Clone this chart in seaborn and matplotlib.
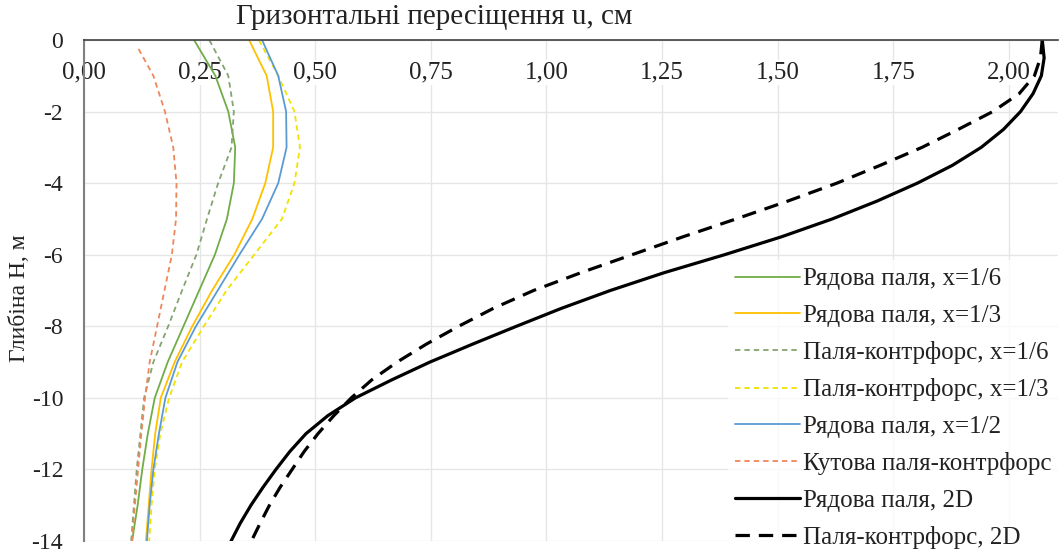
import numpy as np
import pandas as pd
import matplotlib
matplotlib.use("Agg")
import matplotlib.pyplot as plt
import seaborn as sns

# depths (m) for the coloured 3D curves
depth = [0, -1, -2, -3, -4, -5, -6, -7, -8, -9, -10, -11, -12, -13, -14]
row_16 = [0.238, 0.284, 0.312, 0.327, 0.324, 0.309, 0.283, 0.249, 0.215, 0.181, 0.153, 0.138, 0.126, 0.116, 0.104]
row_13 = [0.357, 0.395, 0.409, 0.409, 0.392, 0.364, 0.325, 0.277, 0.234, 0.196, 0.166, 0.154, 0.146, 0.140, 0.134]
buttress_16 = [0.271, 0.312, 0.324, 0.319, 0.290, 0.266, 0.243, 0.212, 0.182, 0.150, 0.130, 0.122, 0.114, 0.108, 0.102]
buttress_13 = [0.378, 0.420, 0.455, 0.467, 0.455, 0.428, 0.368, 0.308, 0.259, 0.212, 0.184, 0.165, 0.153, 0.146, 0.141]
row_12 = [0.385, 0.420, 0.437, 0.438, 0.420, 0.385, 0.336, 0.289, 0.242, 0.202, 0.176, 0.162, 0.150, 0.142, 0.136]
corner_depth = [-0.25, -1, -2, -3, -4, -5, -6, -7, -8, -9, -10, -11, -12, -13, -14]
corner = [0.118, 0.150, 0.175, 0.193, 0.200, 0.199, 0.190, 0.174, 0.158, 0.142, 0.132, 0.124, 0.117, 0.110, 0.104]

# 2D curves, every 0.5 m
depth_2d = [0, -0.5, -1, -1.5, -2, -2.5, -3, -3.5, -4, -4.5, -5, -5.5, -6, -6.5, -7,
            -7.5, -8, -8.5, -9, -9.5, -10, -10.5, -11, -11.5, -12, -12.5, -13, -13.5, -14]
row_2d = [2.072, 2.076, 2.070, 2.052, 2.025, 1.988, 1.940, 1.878, 1.802, 1.715, 1.618, 1.508, 1.385, 1.255, 1.138,
          1.032, 0.935, 0.840, 0.748, 0.665, 0.587, 0.527, 0.480, 0.445, 0.415, 0.387, 0.361, 0.338, 0.318]
buttress_2d = [2.072, 2.068, 2.055, 2.022, 1.965, 1.890, 1.812, 1.722, 1.628, 1.522, 1.410, 1.295, 1.185, 1.075, 0.972,
               0.885, 0.810, 0.740, 0.677, 0.622, 0.578, 0.540, 0.506, 0.476, 0.450, 0.424, 0.401, 0.381, 0.362]

x_ticks = [0, 0.25, 0.5, 0.75, 1.0, 1.25, 1.5, 1.75, 2.0]
x_labels = ["0,00", "0,25", "0,50", "0,75", "1,00", "1,25", "1,50", "1,75", "2,00"]
y_ticks = [0, -2, -4, -6, -8, -10, -12, -14]
y_labels = ["0", "-2", "-4", "-6", "-8", "-10", "-12", "-14"]

series = [
    ("Рядова паля, x=1/6", row_16, depth, "#70AD47", "-", 1.3),
    ("Рядова паля, x=1/3", row_13, depth, "#FFC000", "-", 1.3),
    ("Паля-контрфорс, x=1/6", buttress_16, depth, "#86A372", (0, (3, 2.2)), 1.3),
    ("Паля-контрфорс, x=1/3", buttress_13, depth, "#F2E200", (0, (3, 2.2)), 1.3),
    ("Рядова паля, x=1/2", row_12, depth, "#5B9BD5", "-", 1.3),
    ("Кутова паля-контрфорс", corner, corner_depth, "#EE8759", (0, (3, 2.2)), 1.3),
    ("Рядова паля, 2D", row_2d, depth_2d, "black", "-", 2.3),
    ("Паля-контрфорс, 2D", buttress_2d, depth_2d, "black", (0, (4.5, 2.8)), 2.3),
]

sns.set_theme(style="white")
plt.rcParams["font.family"] = ["Liberation Serif", "DejaVu Serif"]
plt.rcParams["axes.unicode_minus"] = False

fig = plt.figure(figsize=(10.61, 5.54), dpi=100)
ax = fig.add_axes([84 / 1061, 1 - 541 / 554, 974 / 1061, 501 / 554])

for label, xs, ys, color, ls, lw in series:
    df = pd.DataFrame({"u": xs, "H": ys})
    sns.lineplot(data=df, x="u", y="H", ax=ax, sort=False, estimator=None,
                 color=color, linestyle=ls, lw=lw, label=label)

ax.set_xlim(0, 2.106)
ax.set_ylim(-14, 0)
ax.set_xticks(x_ticks)
ax.set_xticklabels(x_labels)
ax.set_yticks(y_ticks)
ax.set_yticklabels(y_labels)
ax.xaxis.tick_top()
ax.tick_params(axis="x", length=0, pad=-31, labelsize=18, colors="#222222")
ax.tick_params(axis="y", length=0, pad=15, labelsize=17, colors="#222222")
for t in ax.get_xticklabels():
    t.set_bbox(dict(facecolor="white", edgecolor="none", pad=1))
ax.set_xlabel("")
ax.set_ylabel("")
ax.grid(True, color="#E6E6E6", lw=1)
ax.set_axisbelow(True)

for side in ["bottom", "right"]:
    ax.spines[side].set_visible(False)
ax.spines["top"].set_color("#404040")
ax.spines["top"].set_linewidth(1.2)
ax.spines["left"].set_color("#808080")
ax.spines["left"].set_linewidth(1.5)

fig.text(236 / 1061, 1 - 17 / 554, "Гризонтальні пересіщення u, см",
         ha="left", va="center", fontsize=21, color="#222222")
fig.text(20 / 1061, 1 - 298 / 554, "Глибіна H, м", rotation=90,
         ha="center", va="center", fontsize=17, color="#222222")

leg = ax.legend(loc="upper left", bbox_to_anchor=(0.661, 0.560), fontsize=18,
                handlelength=2.6, handletextpad=0.12, labelspacing=0.565,
                borderpad=0.3, borderaxespad=0, frameon=True, fancybox=False)
leg.get_frame().set_facecolor("white")
leg.get_frame().set_linewidth(0)
for t in leg.get_texts():
    t.set_color("#222222")

fig.savefig("out.png", dpi=100)
